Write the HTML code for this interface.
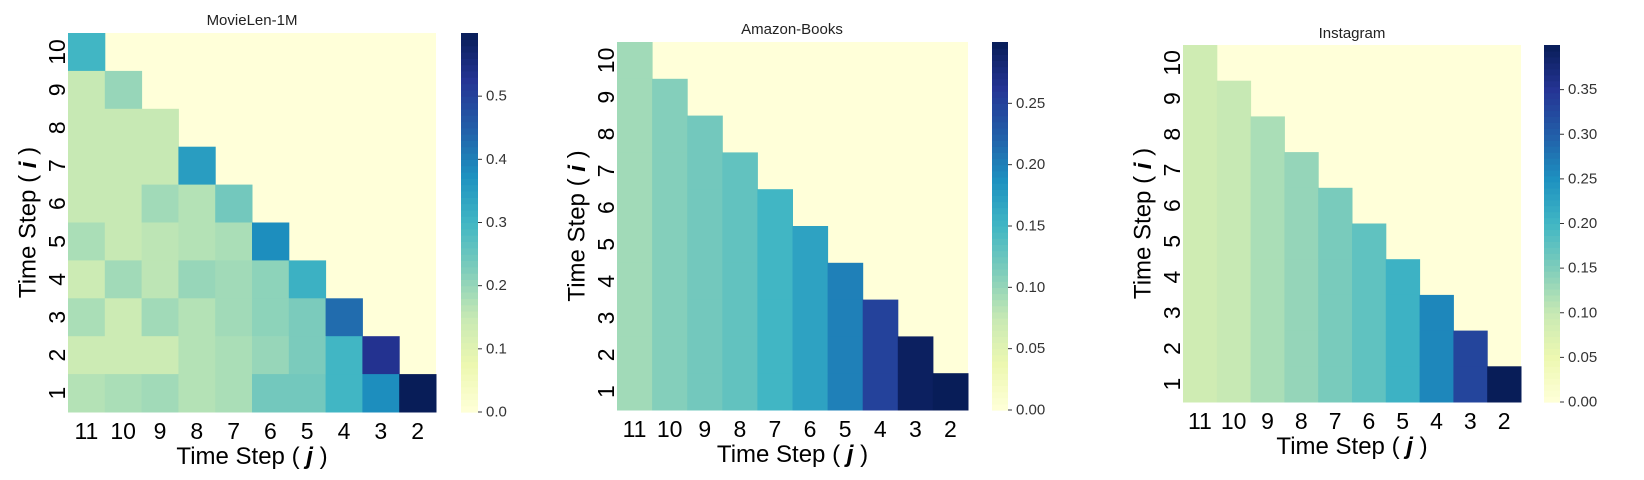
<!DOCTYPE html>
<html><head><meta charset="utf-8"><style>
html,body{margin:0;padding:0;background:#fff;}
svg{display:block;font-family:"Liberation Sans",sans-serif;}
</style></head><body>
<svg id="fig" width="1644" height="480" viewBox="0 0 1644 480"></svg>
<script>
// ---- data ----
const rowLabels = [10,9,8,7,6,5,4,3,2,1];
const colLabels = [11,10,9,8,7,6,5,4,3,2];
const movieValues = [
 [0.30],
 [0.15,0.20],
 [0.15,0.15,0.15],
 [0.15,0.15,0.15,0.35],
 [0.15,0.15,0.19,0.17,0.24],
 [0.18,0.15,0.16,0.17,0.18,0.38],
 [0.14,0.19,0.16,0.20,0.19,0.21,0.31],
 [0.18,0.14,0.19,0.17,0.19,0.21,0.23,0.43],
 [0.14,0.14,0.14,0.17,0.18,0.20,0.23,0.30,0.53],
 [0.17,0.18,0.19,0.17,0.18,0.24,0.24,0.30,0.38,0.60]
];
const amazonCols = [0.095,0.11,0.12,0.13,0.15,0.17,0.20,0.25,0.295,0.30];
const instaCols = [0.09,0.10,0.12,0.135,0.155,0.175,0.205,0.26,0.33,0.40];
const movieTicks = [0,0.1,0.2,0.3,0.4,0.5];
const amazonTicks = [0,0.05,0.10,0.15,0.20,0.25];
const instaTicks = [0,0.05,0.10,0.15,0.20,0.25,0.30,0.35];

const NS="http://www.w3.org/2000/svg";
const svg=document.getElementById('fig');
function el(tag,attrs,parent){const e=document.createElementNS(NS,tag);for(const k in attrs)e.setAttribute(k,attrs[k]);(parent||svg).appendChild(e);return e;}
const stops=["#ffffd9","#edf8b1","#c7e9b4","#7fcdbb","#41b6c4","#1d91c0","#225ea8","#253494","#081d58"];
function hex(h){return [1,3,5].map(i=>parseInt(h.substr(i,2),16));}
function cmap(t){t=Math.max(0,Math.min(1,t));const p=t*8,i=Math.min(7,Math.floor(p)),f=p-i;const a=hex(stops[i]),b=hex(stops[i+1]);return `rgb(${a.map((v,k)=>Math.round(v+(b[k]-v)*f)).join(',')})`;}

function heatmap(cfg){
  const g=el('g',{});
  
  
  const {x0,x1,y0,y1,vmax}=cfg;
  const cw=(x1-x0)/10, ch=(y1-y0)/10;
  const xs=c=>x0+c*cw, ys=r=>y0+r*ch;
  const bg=el('rect',{x:x0,y:y0,width:x1-x0,height:y1-y0,fill:cmap(0)},g);
  
  
  for(let r=0;r<10;r++){for(let c=0;c<=r;c++){
    const v=cfg.value(r,c);
    const cell=el('rect',{x:xs(c),y:ys(r),width:cw+0.5,height:ch+0.5,fill:cmap(v/vmax)},g);
    
    
  }}
  const t=el('text',{x:cfg.tx,y:cfg.ty,'font-size':15,'text-anchor':'middle',fill:'#222'},g);t.textContent=cfg.title;
  
  
  colLabels.forEach((l,c)=>{const e=el('text',{x:xs(c)+cw/2,y:y1+27,'font-size':23,'text-anchor':'middle',fill:'#000'},g);e.textContent=l;
    
    });
  rowLabels.forEach((l,r)=>{const cx=x0-11,cy=ys(r)+ch/2;const e=el('text',{x:cx,y:cy,'font-size':23,'text-anchor':'middle','dominant-baseline':'central',transform:`rotate(-90 ${cx} ${cy})`,fill:'#000'},g);e.textContent=l;
    
    });
  const xl=el('text',{x:(x0+x1)/2,y:y1+52,'font-size':24,'text-anchor':'middle',fill:'#000'},g);
  xl.innerHTML='Time Step ( <tspan font-style="italic" font-weight="bold">j</tspan> )';
  
  
  const yx=x0-40,yy=(y0+y1)/2;
  const yl=el('text',{x:yx,y:yy,'font-size':24,'text-anchor':'middle','dominant-baseline':'central',transform:`rotate(-90 ${yx} ${yy})`,fill:'#000'},g);
  yl.innerHTML='Time Step ( <tspan font-style="italic" font-weight="bold">i</tspan> )';
  
  
  const cb=el('g',{},g);
  
  
  const n=60,h=(y1-y0)/n;
  for(let k=0;k<n;k++){el('rect',{x:cfg.cbx,y:y1-(k+1)*h,width:cfg.cbw,height:h+0.6,fill:cmap((k+0.5)/n)},cb);}
  const cy=v=>y1-(v/vmax)*(y1-y0);
  cfg.ticks.forEach(v=>{const y=cy(v);el('line',{x1:cfg.cbx+cfg.cbw,x2:cfg.cbx+cfg.cbw+4,y1:y,y2:y,stroke:'#333','stroke-width':1},cb);
    const e=el('text',{x:cfg.cbx+cfg.cbw+8,y:y,'font-size':15,'dominant-baseline':'central',fill:'#333'},cb);e.textContent=v.toFixed(cfg.dec);
    
    });
}
heatmap({name:'movielen',title:'MovieLen-1M',x0:68,x1:436,y0:33,y1:412,vmax:0.6,tx:252,ty:25,cbx:461,cbw:17,ticks:movieTicks,dec:1,value:(r,c)=>movieValues[r][c]});
heatmap({name:'amazon',title:'Amazon-Books',x0:617,x1:968,y0:42,y1:410,vmax:0.3,tx:792,ty:34,cbx:992,cbw:16,ticks:amazonTicks,dec:2,value:(r,c)=>amazonCols[c]});
heatmap({name:'instagram',title:'Instagram',x0:1183,x1:1521,y0:45,y1:402,vmax:0.4,tx:1352,ty:38,cbx:1544,cbw:16,ticks:instaTicks,dec:2,value:(r,c)=>instaCols[c]});
</script>
</body></html>
